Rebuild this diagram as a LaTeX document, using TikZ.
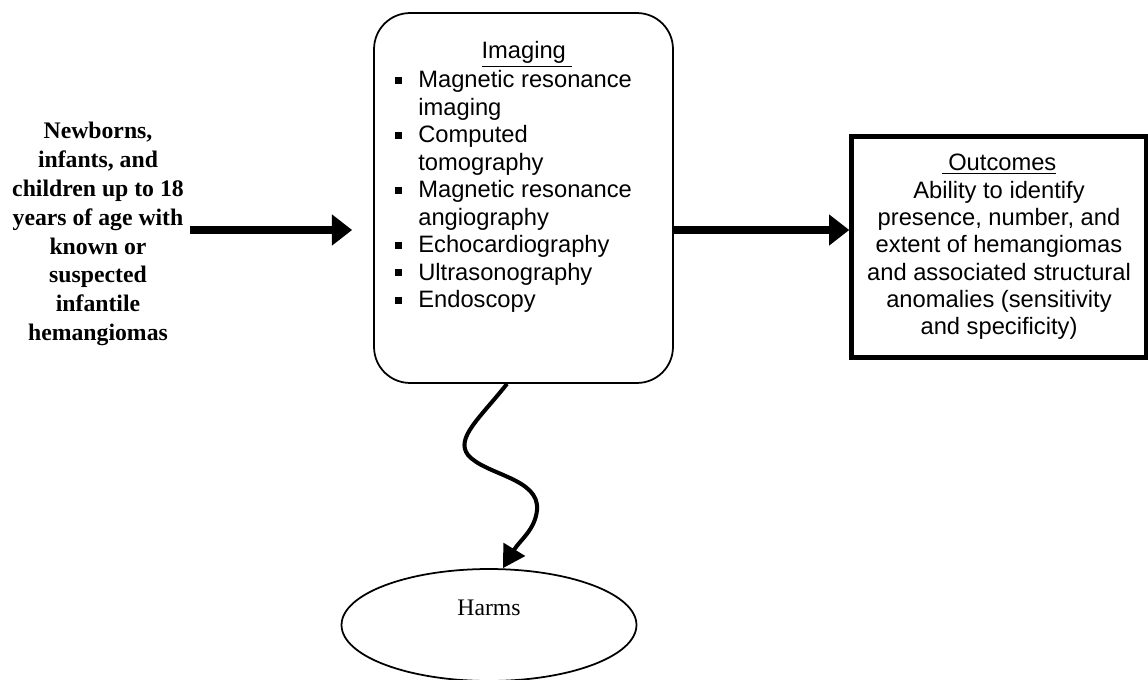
\documentclass[tikz,border=0pt]{standalone}
\usepackage{fontspec}
\setmainfont{Liberation Serif}
\setsansfont{Liberation Sans}
\usetikzlibrary{arrows.meta,shapes.geometric}

\newcommand{\sqbul}{\makebox[4.6mm][l]{\rule[0.8mm]{1.4mm}{1.4mm}}}
\newcommand{\sqind}{\hspace*{4.6mm}}

\begin{document}
\begin{tikzpicture}[x=0.02cm, y=-0.02cm,
    popnode/.style={align=center, font=\fontsize{13.5pt}{16.4pt}\selectfont\bfseries},
    imgbox/.style={draw, line width=1pt, rounded corners=0.72cm, minimum width=5.98cm, minimum height=7.4cm},
    imgtext/.style={align=left, inner sep=0pt, font=\sffamily\fontsize{13.5pt}{15.65pt}\selectfont},
    outbox/.style={draw, line width=2.85pt, align=center, minimum width=5.89cm, minimum height=4.42cm,
        font=\sffamily\fontsize{13.5pt}{15.55pt}\selectfont},
    harmsnode/.style={draw, ellipse, line width=1pt, minimum width=5.9cm, minimum height=2.24cm},
    harmstext/.style={font=\fontsize{13.5pt}{16pt}\selectfont},
    thickarrow/.style={line width=4pt, -{Triangle[length=11.5pt, width=17pt]}},
    wavyarrow/.style={line width=2.3pt, -{Triangle[length=12.5pt, width=14pt]}}]
    \useasboundingbox (0, 0) rectangle (1148, 679);

    % population
    \node[popnode] (pop) at (98, 234) {Newborns,\\ infants, and\\ children up to 18\\ years of age with\\ known or\\ suspected\\ infantile\\ hemangiomas};

    % imaging box
    \node[imgbox] (imaging) at (523.5, 198) {};
    \node[imgtext, anchor=base] (imghead) at (527, 59) {\underline{Imaging\ }};
    \node[imgtext, anchor=north west] (imglist) at (395, 70) {\sqbul Magnetic resonance\\ \sqind imaging\\ \sqbul Computed\\ \sqind tomography\\ \sqbul Magnetic resonance\\ \sqind angiography\\ \sqbul Echocardiography\\ \sqbul Ultrasonography\\ \sqbul Endoscopy};

    % outcomes
    \node[outbox] (outcomes) at (999, 247) {\underline{\ Outcomes}\\ Ability to identify\\ presence, number, and\\ extent of hemangiomas\\ and associated structural\\ anomalies (sensitivity\\ and specificity)};

    % harms
    \node[harmsnode] (harms) at (489, 625) {};
    \node[harmstext] (harmslabel) at (489, 608) {Harms};

    \draw[thickarrow, shorten >=4.2mm] (pop.east |- 0, 230) -- (imaging.west |- 0, 230);
    \draw[thickarrow] (imaging.east |- 0, 230) -- (outcomes.west |- 0, 230);
    \draw[wavyarrow] ([xshift=-3.3mm]imaging.south) .. controls (480, 418) and (455, 438) .. (468, 455)
        .. controls (485, 475) and (540, 478) .. (537, 510)
        .. controls (535, 530) and (520, 540) .. ([xshift=2.8mm]harms.north);
\end{tikzpicture}
\end{document}
